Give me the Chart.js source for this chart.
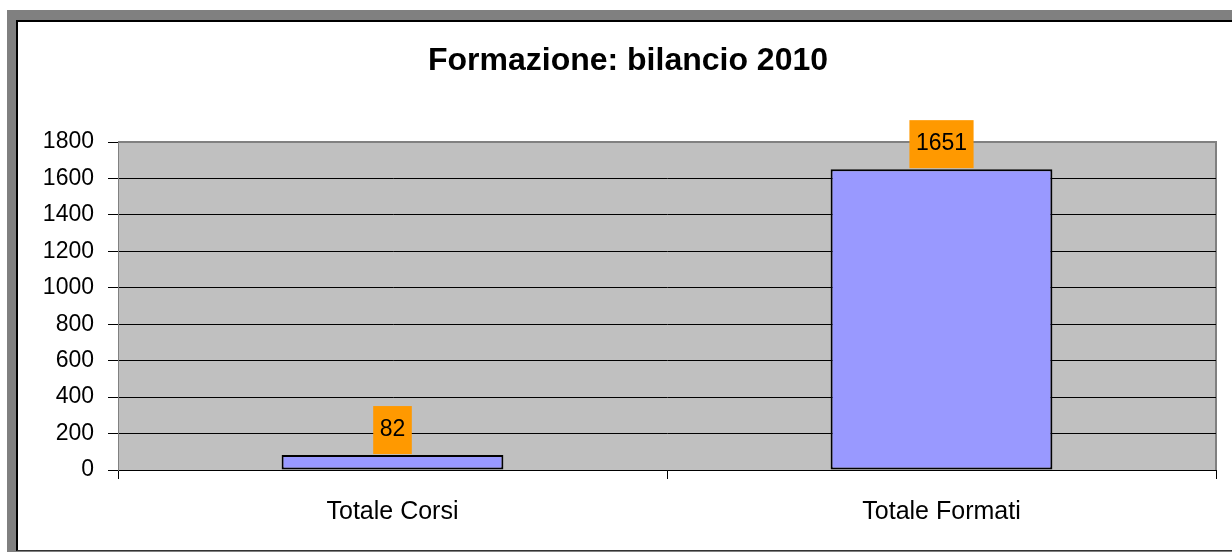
<!DOCTYPE html>
<html>
<head>
<meta charset="utf-8">
<script src="https://cdn.jsdelivr.net/npm/chart.js@4/dist/chart.umd.min.js"></script>
<style>
  html, body { margin: 0; padding: 0; background: #fff; width: 1232px; height: 552px; overflow: hidden; }
  .frame { position: absolute; left: 7px; top: 10px; width: 1225px; height: 542px; background: #808080; }
  .inner { position: absolute; left: 9px; top: 10px; width: 1214px; height: 528px;
           border-left: 2px solid #000; border-top: 2px solid #000; border-bottom: 1px solid #333; background: #fff; }
  canvas { display: block; }
</style>
</head>
<body>
<div class="frame"><div class="inner"><canvas id="chart" width="1214" height="528"></canvas></div></div>
<script>
// dati del grafico
const categories = ['Totale Corsi', 'Totale Formati'];
const values = [82, 1651];
const yTicks = [0, 200, 400, 600, 800, 1000, 1200, 1400, 1600, 1800];

const FONT = "'Liberation Sans', Arial, sans-serif";

// sfondo grigio dell'area del grafico e bordo
const plotBackground = {
    id: 'plotBackground',
    beforeDraw(chart) {
        const { ctx, chartArea: a } = chart;
        ctx.save();
        ctx.fillStyle = '#C0C0C0';
        ctx.fillRect(a.left, a.top, a.right - a.left, a.bottom - a.top);
        ctx.strokeStyle = '#808080';
        ctx.lineWidth = 2;
        ctx.beginPath();
        ctx.moveTo(a.left, a.top);
        ctx.lineTo(a.right, a.top);
        ctx.lineTo(a.right, a.bottom);
        ctx.stroke();
        ctx.restore();
    }
};

// etichette dei valori con sfondo arancione
const valueLabels = {
    id: 'valueLabels',
    afterDatasetsDraw(chart) {
        const { ctx } = chart;
        const meta = chart.getDatasetMeta(0);
        ctx.save();
        ctx.font = '23px ' + FONT;
        ctx.textAlign = 'center';
        ctx.textBaseline = 'middle';
        meta.data.forEach((bar, i) => {
            const txt = String(values[i]);
            const w = ctx.measureText(txt).width + 13;
            const h = 48;
            ctx.fillStyle = '#FF9900';
            ctx.fillRect(bar.x - w / 2, bar.y - h - 1, w, h);
            ctx.fillStyle = '#000';
            ctx.fillText(txt, bar.x, bar.y - h / 2 - 1);
        });
        ctx.restore();
    }
};

const ctx = document.getElementById('chart').getContext('2d');
new Chart(ctx, {
    type: 'bar',
    data: {
        labels: categories,
        datasets: [{
            data: values,
            backgroundColor: '#9999FF',
            borderColor: '#000',
            borderWidth: 2,
            borderSkipped: false,
            barPercentage: 0.404,
            categoryPercentage: 1
        }]
    },
    options: {
        responsive: false,
        animation: false,
        layout: { padding: { left: 22, right: 16, top: 0, bottom: 0 } },
        plugins: {
            legend: { display: false },
            tooltip: { enabled: false },
            title: {
                display: true,
                text: 'Formazione: bilancio 2010',
                color: '#000',
                font: { family: FONT, size: 32, weight: 'bold' },
                padding: { top: 20, bottom: 61.6 }
            }
        },
        scales: {
            x: {
                grid: { offset: true, drawOnChartArea: false, tickLength: 9, color: '#000' },
                border: { color: '#000', width: 1 },
                ticks: { color: '#000', font: { family: FONT, size: 25 }, padding: 18 },
                afterFit(scale) { scale.height = 80; }
            },
            y: {
                min: 0,
                max: 1800,
                afterBuildTicks(scale) { scale.ticks = yTicks.map(v => ({ value: v })); },
                grid: {
                    tickLength: 10,
                    color: c => (c.tick && c.tick.value === 1800) ? 'rgba(0,0,0,0)' : '#000',
                    tickColor: '#000'
                },
                border: { color: '#808080', width: 1 },
                ticks: {
                    color: '#000',
                    font: { family: FONT, size: 23 },
                    padding: 14,
                    callback: v => String(v)
                },
                afterFit(scale) { scale.width = 78; }
            }
        }
    },
    plugins: [plotBackground, valueLabels]
});
</script>
</body>
</html>
